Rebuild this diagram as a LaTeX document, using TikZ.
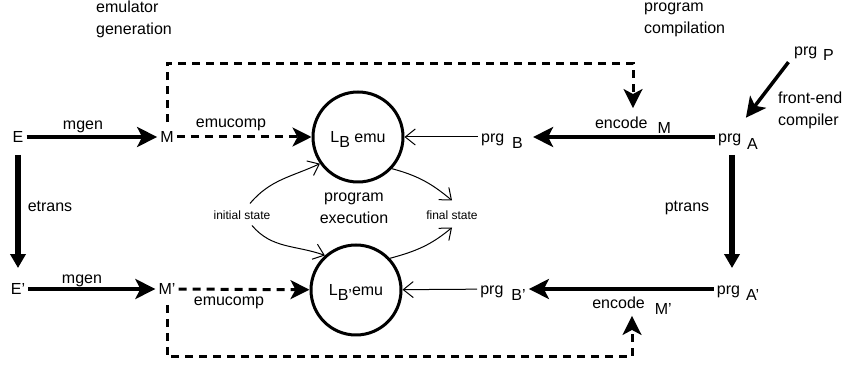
\documentclass[tikz,border=0pt]{standalone}
\usepackage{fontspec}
\setmainfont{Liberation Sans}
\usetikzlibrary{arrows.meta}

\begin{document}
\begin{tikzpicture}[x=1pt,y=1pt,
  every node/.style={font=\fontsize{16}{22}\selectfont,text height=11.5pt,text depth=0pt,inner sep=3pt},
  heavy/.style={line width=3.5pt,-{Stealth[length=20pt,width=20pt,inset=5pt]}},
  vheavy/.style={line width=6.5pt,-{Triangle[length=14pt,width=15pt]}},
  dasharrow/.style={line width=3pt,dash pattern=on 8pt off 6pt,-{Stealth[length=19pt,width=19pt,inset=5pt]}},
  fine/.style={line width=1pt,-{Straight Barb[length=10pt,width=16pt]}},
  emu/.style={circle,draw,line width=3pt,minimum size=90pt,inner sep=0pt},
  small/.style={font=\fontsize{12}{14}\selectfont,text height=8.6pt},
  twoline/.style={align=left,text height=,text depth=}]
  \useasboundingbox (0,0) rectangle (846,366);
  \node (e) at (18,229) {E};
  \node (m) at (167,229) {M};
  \node (ep) at (18,77) {E'};
  \node (mp) at (167,77) {M'};
  \node[emu] (lb) at (358,229) {L\raisebox{-5pt}[0pt][0pt]{B} emu};
  \node[emu] (lbp) at (356,76) {L\raisebox{-5pt}[0pt][0pt]{B'}emu};
  \node (pb) at (502,229) {prg\hspace{8pt}\raisebox{-6pt}[0pt][0pt]{B}};
  \node (pa) at (738,229) {prg\hspace{6pt}\raisebox{-7pt}[0pt][0pt]{A}};
  \node (pp) at (814,316) {prg\hspace{6pt}\raisebox{-5pt}[0pt][0pt]{P}};
  \node (pbp) at (503,77) {prg\hspace{8pt}\raisebox{-6pt}[0pt][0pt]{B'}};
  \node (pap) at (738,77) {prg\hspace{6pt}\raisebox{-6pt}[0pt][0pt]{A'}};
  \node (encm) at (633,243) {encode\hspace{10pt}\raisebox{-5pt}[0pt][0pt]{M}};
  \node (encmp) at (632,63) {encode\hspace{10pt}\raisebox{-6pt}[0pt][0pt]{M'}};
  \node (mgen) at (83,242) {mgen};
  \node (mgenp) at (82,88) {mgen};
  \node (comp) at (231,244) {emucomp};
  \node (compp) at (229,66) {emucomp};
  \node (etrans) at (50,160) {etrans};
  \node (ptrans) at (687,160) {ptrans};
  \node[small] (init) at (242,151) {initial state};
  \node[small] (fin) at (452,151) {final state};
  \node[twoline,align=center] (exec) at (354,158) {program\\execution};
  \node[twoline,anchor=west] (egen) at (93,347) {emulator\\generation};
  \node[twoline,anchor=west] (pcomp) at (641,346) {program\\compilation};
  \node[twoline,anchor=west] (fec) at (775,256) {front-end\\compiler};
  % emulator side
  \draw[heavy] (e) -- (m);
  \draw[heavy] (ep) -- (mp);
  \draw[vheavy,shorten <=9pt,shorten >=12pt] (e) -- (ep);
  \draw[dasharrow] (m) -- (lb);
  \draw[dasharrow] (mp) -- (lbp);
  \draw[dasharrow,shorten <=6pt,shorten >=6pt] (m.north) |- ([yshift=51pt]encm.north) -- (encm.north);
  \draw[dasharrow,shorten <=7pt,shorten >=4pt] (mp.south) |- ([yshift=-45pt]encmp.south) -- (encmp.south);
  % program side
  \draw[heavy,shorten <=4pt,shorten >=13pt] (pp.south west) -- (pa.north);
  \draw[heavy,shorten >=7pt] (pa) -- (pb);
  \draw[heavy] (pap) -- (pbp);
  \draw[vheavy,shorten <=9pt,shorten >=12pt] ([xshift=-6pt]pa.south) -- ([xshift=-6pt]pap.north);
  \draw[fine] (pb) -- (lb);
  \draw[fine] (pbp) -- (lbp);
  % execution
  \draw[fine] ([xshift=8pt,yshift=4pt]init.north) to[out=50,in=205] (lb.215);
  \draw[fine] ([xshift=10pt,yshift=-3pt]init.south) to[out=-50,in=160] (lbp.132);
  \draw[fine] (lb.-43) to[out=-15,in=140] ([yshift=7pt]fin.north);
  \draw[fine] (lbp.43) to[out=15,in=220] ([yshift=-5pt]fin.south);
\end{tikzpicture}
\end{document}
